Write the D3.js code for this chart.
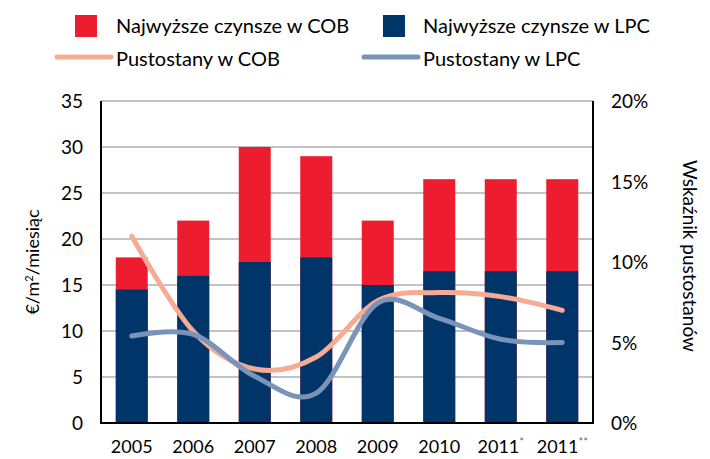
<!DOCTYPE html>
<html lang="pl">
<head>
<meta charset="UTF-8">
<title>Czynsze i pustostany</title>
<script src="https://d3js.org/d3.v7.min.js"></script>
<style>
	html, body { margin: 0; padding: 0; background: #fff; }
	body { width: 710px; height: 459px; overflow: hidden; }
	svg text { font-family: 'Lato', sans-serif; fill: #000; }
	.grid line { stroke: #c3c3c3; stroke-width: 2px; }
	.frame { stroke: #000; stroke-width: 2px; }
</style>
</head>
<body>
<div id="chart"></div>
<script>
// data
var years = ['2005', '2006', '2007', '2008', '2009', '2010', '2011', '2011'];
var yearMarks = ['', '', '', '', '', '', '*', '**'];
var rentCOB = [18, 22, 30, 29, 22, 26.5, 26.5, 26.5];
var rentLPC = [14.5, 16, 17.5, 18, 15, 16.5, 16.5, 16.5];
var vacancyCOB = [11.6, 5.7, 3.35, 4.1, 7.6, 8.1, 7.85, 7.0];
var vacancyLPC = [5.4, 5.5, 2.9, 1.85, 7.45, 6.5, 5.2, 5.0];
var rentTicks = [0, 5, 10, 15, 20, 25, 30, 35];
var vacTicks = [0, 5, 10, 15, 20];

var legendItems = [
	{label: 'Najwyższe czynsze w COB', type: 'rect', color: '#ed1c2e'},
	{label: 'Najwyższe czynsze w LPC', type: 'rect', color: '#00356a'},
	{label: 'Pustostany w COB', type: 'line', color: '#f6ab92'},
	{label: 'Pustostany w LPC', type: 'line', color: '#7a93b9'}
];

var width = 710, height = 459;
var plotL = 101, plotR = 593, plotT = 101, plotB = 423;

var svg = d3.select('#chart').append('svg')
	.attr('width', width)
	.attr('height', height);

var x = d3.scaleBand()
	.domain(d3.range(years.length))
	.range([plotL, plotR])
	.paddingInner(0.48)
	.paddingOuter(0.24);

var y = d3.scaleLinear().domain([0, 35]).range([plotB, plotT]);
var yR = d3.scaleLinear().domain([0, 20]).range([plotB, plotT]);

// grid
svg.append('g').attr('class', 'grid')
	.selectAll('line')
	.data(rentTicks.slice(1))
	.enter().append('line')
	.attr('x1', plotL).attr('x2', plotR)
	.attr('y1', function(d) { return y(d); })
	.attr('y2', function(d) { return y(d); });

// bars - COB behind, LPC in front
svg.append('g').selectAll('rect')
	.data(rentCOB)
	.enter().append('rect')
	.attr('x', function(d, i) { return x(i); })
	.attr('width', x.bandwidth())
	.attr('y', function(d) { return y(d); })
	.attr('height', function(d) { return plotB - y(d); })
	.attr('fill', legendItems[0].color);

svg.append('g').selectAll('rect')
	.data(rentLPC)
	.enter().append('rect')
	.attr('x', function(d, i) { return x(i); })
	.attr('width', x.bandwidth())
	.attr('y', function(d) { return y(d); })
	.attr('height', function(d) { return plotB - y(d); })
	.attr('fill', legendItems[1].color);

// vacancy lines
var line = d3.line()
	.x(function(d, i) { return x(i) + x.bandwidth() / 2; })
	.y(function(d) { return yR(d); })
	.curve(d3.curveCatmullRom.alpha(0));

[[vacancyCOB, legendItems[2].color], [vacancyLPC, legendItems[3].color]].forEach(function(s) {
	svg.append('path')
		.attr('d', line(s[0]))
		.attr('fill', 'none')
		.attr('stroke', s[1])
		.attr('stroke-width', 5)
		.attr('stroke-linecap', 'round');
});

// frame
svg.append('path')
	.attr('class', 'frame')
	.attr('fill', 'none')
	.attr('d', 'M' + plotL + ',' + plotT + 'V' + plotB + 'H' + plotR + 'V' + plotT);

// left ticks
svg.append('g').selectAll('text')
	.data(rentTicks)
	.enter().append('text')
	.attr('x', 83)
	.attr('y', function(d) { return y(d) + 7; })
	.attr('text-anchor', 'end')
	.style('font-size', '19px')
	.text(function(d) { return d; });

// right ticks
svg.append('g').selectAll('text')
	.data(vacTicks)
	.enter().append('text')
	.attr('x', 611)
	.attr('y', function(d) { return yR(d) + 7; })
	.style('font-size', '19px')
	.text(function(d) { return d + '%'; });

// x labels
var xl = svg.append('g').selectAll('text')
	.data(years)
	.enter().append('text')
	.attr('x', function(d, i) { return x(i) + x.bandwidth() / 2; })
	.attr('y', 453)
	.attr('text-anchor', 'middle')
	.style('font-size', '18px');
xl.append('tspan').text(function(d) { return d; });
xl.append('tspan')
	.attr('dy', -7)
	.style('font-size', '11px')
	.style('fill', '#666')
	.text(function(d, i) { return yearMarks[i]; });

// axis titles
svg.append('text')
	.attr('transform', 'translate(39,' + ((plotT + plotB) / 2) + ') rotate(-90)')
	.attr('text-anchor', 'middle')
	.style('font-size', '18px')
	.html('€/m<tspan dy="-6" style="font-size:11px">2</tspan><tspan dy="6">/miesiąc</tspan>');

svg.append('text')
	.attr('transform', 'translate(683,' + ((plotT + plotB) / 2 - 6) + ') rotate(90)')
	.attr('text-anchor', 'middle')
	.style('font-size', '19px')
	.text('Wskaźnik pustostanów');

// legend
var legendPos = [[75, 15], [383, 15], [57, 57], [364, 57]];
legendItems.forEach(function(d, i) {
	var p = legendPos[i];
	if (d.type === 'rect') {
		svg.append('rect')
			.attr('x', p[0]).attr('y', p[1])
			.attr('width', 22).attr('height', 22)
			.attr('fill', d.color);
	} else {
		svg.append('line')
			.attr('x1', p[0]).attr('x2', p[0] + 54)
			.attr('y1', p[1]).attr('y2', p[1])
			.attr('stroke', d.color)
			.attr('stroke-width', 5)
			.attr('stroke-linecap', 'round');
	}
	svg.append('text')
		.attr('x', i % 2 === 0 ? 116 : 423)
		.attr('y', i < 2 ? 33 : 66)
		.style('font-size', '20px')
		.text(d.label);
});
</script>
</body>
</html>
